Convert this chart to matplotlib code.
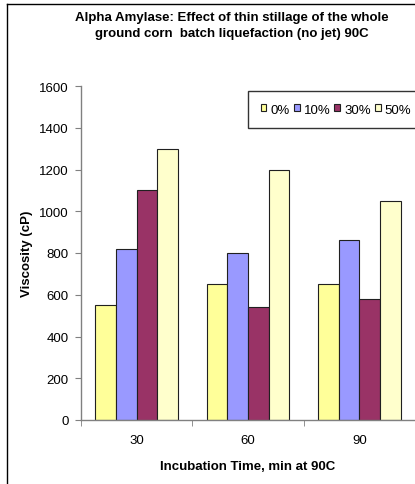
import numpy as np
import matplotlib
matplotlib.use("Agg")
import matplotlib.pyplot as plt
from matplotlib.lines import Line2D

plt.rcParams["font.family"] = ["Liberation Sans", "DejaVu Sans"]

times = ["30", "60", "90"]
series = ["0%", "10%", "30%", "50%"]
v_0 = [550, 650, 650]
v_10 = [820, 800, 860]
v_30 = [1100, 540, 580]
v_50 = [1300, 1200, 1050]
colors = ["#FFFF99", "#9999FF", "#993366", "#FFFFCC"]

W, H = 415, 485
fs = 9.5
fig = plt.figure(figsize=(W / 100, H / 100), dpi=100)

# axes in pixel coordinates: x 81..415, y 87..421
ax = fig.add_axes([81 / W, 1 - 421 / H, (415 - 81) / W, (421 - 87) / H])

x = np.arange(len(times))
w = 0.185
for i, (vals, c, lab) in enumerate(zip([v_0, v_10, v_30, v_50], colors, series)):
    ax.bar(x + (i - 1.5) * w, vals, w, color=c, edgecolor="#202020",
           linewidth=0.8, label=lab)

ax.set_xlim(-0.5, 2.5)
ax.set_ylim(0, 1600)
ax.set_yticks(range(0, 1601, 200))
ax.set_xticks(x)
ax.set_xticklabels(times)
ax.set_xticks([-0.5, 0.5, 1.5, 2.5], minor=True)
ax.tick_params(axis="x", which="major", length=0, pad=10, labelsize=fs)
ax.tick_params(axis="x", which="minor", length=4, color="#808080")
ax.tick_params(axis="y", length=4, color="#808080", labelsize=fs, pad=5)
for s in ["top", "right"]:
    ax.spines[s].set_visible(False)
for s in ["left", "bottom"]:
    ax.spines[s].set_color("#808080")
    ax.spines[s].set_linewidth(1.0)

ax.set_ylabel("Viscosity (cP)", fontsize=fs, fontweight="bold", labelpad=4)
ax.set_xlabel("Incubation Time, min at 90C", fontsize=fs, fontweight="bold",
              labelpad=10)

fig.text(232 / W, 1 - 26 / H,
         "Alpha Amylase: Effect of thin stillage of the whole\n"
         "ground corn  batch liquefaction (no jet) 90C",
         ha="center", va="center", fontsize=fs, fontweight="bold",
         linespacing=1.45)

leg = fig.legend(loc="upper left", bbox_to_anchor=(248 / W, 1 - 92 / H),
                 ncol=4, fontsize=fs, frameon=True, fancybox=False,
                 handlelength=0.45, handleheight=0.45, handletextpad=0.3,
                 columnspacing=0.3, borderpad=0.95, borderaxespad=0)
leg.get_frame().set_edgecolor("black")
leg.get_frame().set_linewidth(1.0)

# chart-area border (left and top visible)
fig.add_artist(Line2D([7 / W, 7 / W], [0, 1 - 5 / H], color="black", lw=1.0))
fig.add_artist(Line2D([7 / W, 1], [1 - 5 / H, 1 - 5 / H], color="black", lw=1.0))

fig.savefig("out.png", dpi=100)
